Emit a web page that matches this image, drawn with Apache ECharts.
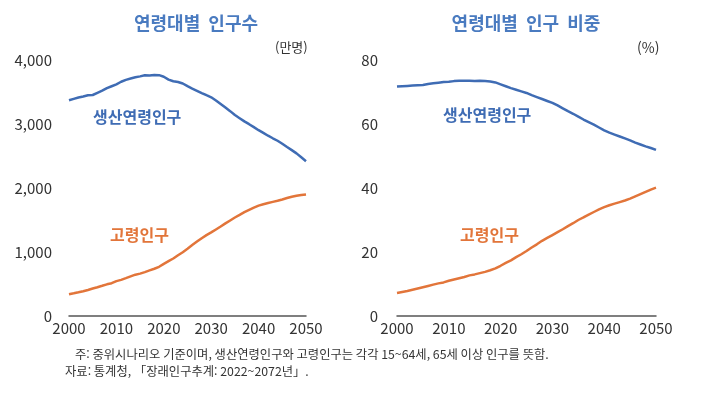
<!DOCTYPE html>
<html lang="ko">
<head>
    <meta charset="utf-8">
    <title>연령대별 인구</title>
    <script type="text/javascript" src="https://cdn.jsdelivr.net/npm/echarts@6/dist/echarts.min.js"></script>
    <style>
        html, body { margin: 0; padding: 0; background: #fff; }
    </style>
</head>
<body>
<div id="main" style="width: 727px;height:398px;"></div>
<script>
    // 연도 (2000~2050)
    var years = [];
    for (var y = 2000; y <= 2050; y++) years.push(y);

    // 생산연령인구 (만명)
    var workPop = [3370, 3392, 3414, 3431, 3449, 3453, 3487, 3520, 3560, 3590,
        3620, 3660, 3690, 3710, 3730, 3744, 3763, 3757, 3765, 3763,
        3738, 3694, 3668, 3657, 3633, 3591, 3553, 3519, 3484, 3450,
        3417, 3367, 3313, 3258, 3201, 3140, 3091, 3041, 2997, 2951,
        2903, 2861, 2817, 2777, 2738, 2691, 2641, 2592, 2541, 2480, 2419];
    // 고령인구 (만명)
    var oldPop = [339, 354, 370, 387, 407, 429, 450, 472, 495, 512,
        545, 565, 592, 620, 646, 662, 686, 712, 738, 769,
        815, 857, 898, 950, 997, 1051, 1108, 1163, 1216, 1264,
        1306, 1352, 1398, 1447, 1493, 1539, 1580, 1622, 1659, 1694,
        1724, 1747, 1766, 1783, 1800, 1821, 1843, 1864, 1880, 1892, 1900];
    // 생산연령인구 비중 (%)
    var workShare = [71.7, 71.8, 71.9, 72.0, 72.1, 72.2, 72.5, 72.7, 72.9, 73.1,
        73.2, 73.4, 73.5, 73.5, 73.5, 73.4, 73.5, 73.4, 73.3, 73.0,
        72.4, 71.8, 71.2, 70.7, 70.2, 69.7, 69.0, 68.4, 67.8, 67.2,
        66.6, 65.8, 64.9, 64.0, 63.2, 62.3, 61.4, 60.6, 59.8, 58.9,
        58.0, 57.3, 56.7, 56.1, 55.5, 54.9, 54.2, 53.6, 53.0, 52.5, 51.9];
    // 고령인구 비중 (%)
    var oldShare = [7.2, 7.5, 7.8, 8.2, 8.6, 9.0, 9.4, 9.8, 10.2, 10.5,
        11.0, 11.4, 11.8, 12.2, 12.7, 13.0, 13.4, 13.8, 14.3, 14.9,
        15.7, 16.6, 17.4, 18.4, 19.3, 20.3, 21.4, 22.4, 23.5, 24.4,
        25.3, 26.2, 27.1, 28.1, 29.0, 30.0, 30.8, 31.7, 32.5, 33.3,
        34.0, 34.6, 35.1, 35.6, 36.1, 36.7, 37.4, 38.1, 38.8, 39.5, 40.1];

    var popTicks = [0, 1000, 2000, 3000, 4000];
    var shareTicks = [0, 20, 40, 60, 80];

    var BLUE = '#3f6cb4';
    var ORANGE = '#e2753a';
    var FONT = '"Noto Sans CJK KR", sans-serif';

    function pairs(vals) {
        return years.map(function (yr, i) { return [yr, vals[i]]; });
    }

    function xAxisOf(idx) {
        return {
            type: 'value', gridIndex: idx, min: 2000, max: 2050, interval: 10,
            axisLine: { show: true, lineStyle: { color: '#555', width: 1.5 } },
            axisTick: { show: false },
            splitLine: { show: false },
            axisLabel: { color: '#333', fontSize: 15, fontFamily: FONT, margin: 5,
                formatter: function (v) { return String(v); } }
        };
    }

    function yAxisOf(idx, ticks, margin) {
        return {
            type: 'value', gridIndex: idx, min: ticks[0], max: ticks[ticks.length - 1],
            interval: ticks[1] - ticks[0],
            axisLine: { show: false },
            axisTick: { show: false },
            splitLine: { show: false },
            axisLabel: { color: '#333', fontSize: 15, fontFamily: FONT, margin: margin,
                formatter: function (v) { return v.toLocaleString('en-US'); } }
        };
    }

    function lineOf(name, idx, vals, color) {
        return {
            name: name, type: 'line', xAxisIndex: idx, yAxisIndex: idx,
            data: pairs(vals), showSymbol: false, smooth: false,
            lineStyle: { color: color, width: 2.5 },
            itemStyle: { color: color }
        };
    }

    function label(text, x, y, color) {
        return {
            type: 'text', left: x, top: y,
            style: { text: text, fill: color, font: 'bold 16px ' + FONT }
        };
    }

    function note(text, x, y) {
        return {
            type: 'text', left: x, top: y,
            style: { text: text, fill: '#333', font: '12.3px ' + FONT }
        };
    }

    var myChart = echarts.init(document.getElementById('main'));
    var option = {
        animation: false,
        backgroundColor: '#fff',
        title: [
            { text: '연령대별  인구수', left: 191, top: 9, textAlign: 'center',
                textStyle: { color: '#4a7bc0', fontSize: 18, fontWeight: 'bold', fontFamily: FONT } },
            { text: '연령대별  인구  비중', left: 521, top: 9, textAlign: 'center',
                textStyle: { color: '#4a7bc0', fontSize: 18, fontWeight: 'bold', fontFamily: FONT } }
        ],
        grid: [
            { left: 69, top: 60, width: 237, height: 256 },
            { left: 397, top: 60, width: 259, height: 256 }
        ],
        xAxis: [xAxisOf(0), xAxisOf(1)],
        yAxis: [yAxisOf(0, popTicks, 17), yAxisOf(1, shareTicks, 19)],
        series: [
            lineOf('생산연령인구', 0, workPop, BLUE),
            lineOf('고령인구', 0, oldPop, ORANGE),
            lineOf('생산연령인구', 1, workShare, BLUE),
            lineOf('고령인구', 1, oldShare, ORANGE)
        ],
        graphic: [
            { type: 'text', left: 275, top: 41, style: { text: '(만명)', fill: '#333', font: '13px ' + FONT } },
            { type: 'text', left: 637, top: 41, style: { text: '(%)', fill: '#333', font: '14px ' + FONT } },
            label('생산연령인구', 93, 109, BLUE),
            label('고령인구', 110, 227, ORANGE),
            label('생산연령인구', 443, 107, BLUE),
            label('고령인구', 460, 227, ORANGE),
            note('주: 중위시나리오 기준이며, 생산연령인구와 고령인구는 각각 15~64세, 65세 이상 인구를 뜻함.', 75, 348),
            note('자료: 통계청, 「장래인구추계: 2022~2072년」.', 65, 365)
        ]
    };
    myChart.setOption(option);
</script>
</body>
</html>
